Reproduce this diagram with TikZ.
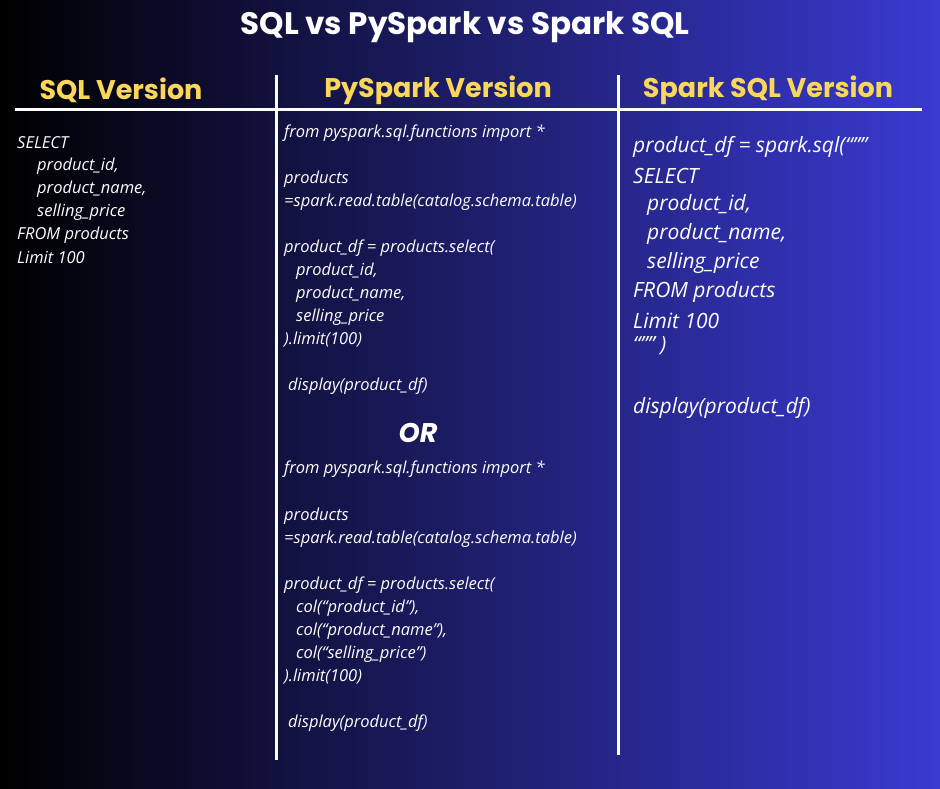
\documentclass[tikz,border=0pt]{standalone}
\usepackage{fontspec}
\setmainfont{Open Sans}
\newfontfamily\pop{Poppins}
\definecolor{bgblue}{RGB}{58,58,210}
\definecolor{hdr}{RGB}{250,215,90}
\begin{document}
\begin{tikzpicture}[x=1pt,y=-1pt,
  code/.style={anchor=west,text=white,inner sep=0pt,font=\itshape\fontsize{16.5}{18}\selectfont},
  big/.style={anchor=west,text=white,inner sep=0pt,font=\itshape\fontsize{21}{24}\selectfont},
  hd/.style={text=hdr,font=\pop\bfseries\fontsize{27}{30}\selectfont},
  rule/.style={white,line width=3pt}]
\shade[left color=black,right color=bgblue] (0,0) rectangle (940,788);
\useasboundingbox (0,0) rectangle (940,788);
\node[text=white,font=\pop\bfseries\fontsize{31}{34}\selectfont] (title) at (465,27) {SQL vs PySpark vs Spark SQL};
\node[hd] (h1) at (121,90) {SQL Version};
\node[hd] (h2) at (438,90) {PySpark Version};
\node[hd] (h3) at (768,90) {Spark SQL Version};
\coordinate (l1) at (15,109); \coordinate (l2) at (922,109);
\draw[rule] (l1) -- (l2);
\coordinate (v1a) at (276,75); \coordinate (v1b) at (276,760);
\coordinate (v2a) at (618,75); \coordinate (v2b) at (618,755);
\draw[rule] (v1a) -- (v1b);
\draw[rule] (v2a) -- (v2b);
% SQL
\node[code] (s1) at (17,143) {SELECT};
\node[code] (s2) at (37,166) {product\_id,};
\node[code] (s3) at (37,189) {product\_name,};
\node[code] (s4) at (37,212) {selling\_price};
\node[code] (s5) at (17,235) {FROM products};
\node[code] (s6) at (17,258) {Limit 100};
% PySpark 1
\node[code] (p1) at (284,133) {from pyspark.sql.functions import *};
\node[code] (p2) at (284,179) {products};
\node[code] (p3) at (284,202) {=spark.read.table(catalog.schema.table)};
\node[code] (p4) at (284,248) {product\_df = products.select(};
\node[code] (p5) at (296,271) {product\_id,};
\node[code] (p6) at (296,294) {product\_name,};
\node[code] (p7) at (296,317) {selling\_price};
\node[code] (p8) at (284,340) {).limit(100)};
\node[code] (p9) at (288,386) {display(product\_df)};
\node[text=white,font=\pop\bfseries\itshape\fontsize{27}{30}\selectfont] (or) at (418,433) {OR};
% PySpark 2
\node[code] (q1) at (284,469) {from pyspark.sql.functions import *};
\node[code] (q2) at (284,516) {products};
\node[code] (q3) at (284,539) {=spark.read.table(catalog.schema.table)};
\node[code] (q4) at (284,585) {product\_df = products.select(};
\node[code] (q5) at (296,608) {col(“product\_id”),};
\node[code] (q6) at (296,631) {col(“product\_name”),};
\node[code] (q7) at (296,654) {col(“selling\_price”)};
\node[code] (q8) at (284,677) {).limit(100)};
\node[code] (q9) at (288,723) {display(product\_df)};
% Spark SQL
\node[big] (r1) at (633,147) {product\_df = spark.sql(“””};
\node[big] (r2) at (633,176) {SELECT};
\node[big] (r3) at (647,205) {product\_id,};
\node[big] (r4) at (647,234) {product\_name,};
\node[big] (r5) at (647,263) {selling\_price};
\node[big] (r6) at (633,292) {FROM products};
\node[big] (r7) at (633,321) {Limit 100};
\node[big] (r8) at (633,346) {“”” )};
\node[big] (r9) at (633,408) {display(product\_df)};
\end{tikzpicture}
\end{document}
